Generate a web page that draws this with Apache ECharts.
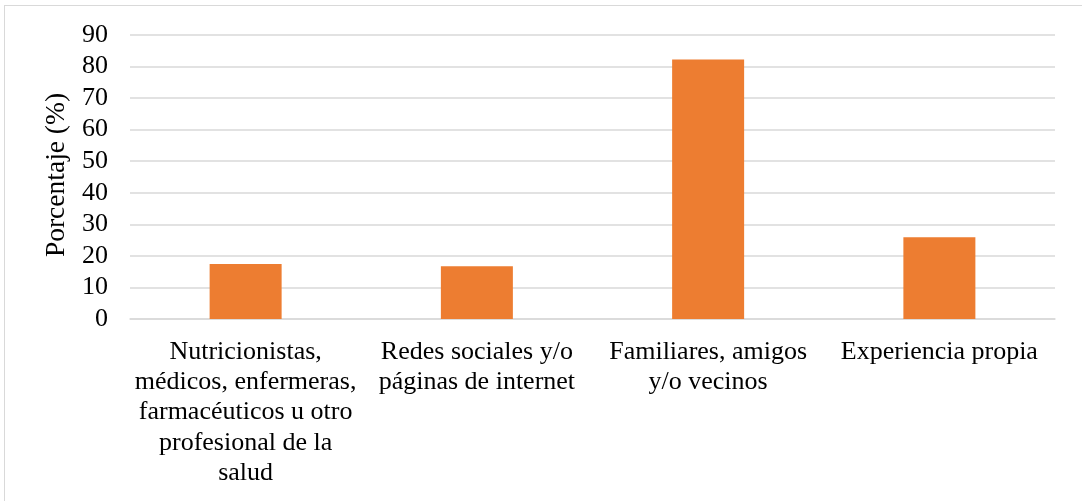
<!DOCTYPE html>
<html>
<head>
<meta charset="utf-8">
<script src="https://cdn.jsdelivr.net/npm/echarts@6/dist/echarts.min.js"></script>
<style>
  html, body { margin: 0; padding: 0; background: #fff; }
  #frame { position: absolute; left: 4px; top: 5px; width: 1090px; height: 510px; border: 1px solid #d9d9d9; box-sizing: border-box; }
  #chart { position: absolute; left: 0; top: 0; width: 1082px; height: 501px; }
</style>
</head>
<body>
<div id="frame"></div>
<div id="chart"></div>
<script>
// Sources of information, percentage of respondents
const categories = [
  'Nutricionistas,\nmédicos, enfermeras,\nfarmacéuticos u otro\nprofesional de la\nsalud',
  'Redes sociales y/o\npáginas de internet',
  'Familiares, amigos\ny/o vecinos',
  'Experiencia propia'
];
const percentages = [17.4, 16.7, 82.2, 25.9];
const yAxisTitle = 'Porcentaje (%)';

const serif = '"Liberation Serif", "Times New Roman", serif';
const chart = echarts.init(document.getElementById('chart'), null, { renderer: 'canvas' });
chart.setOption({
  animation: false,
  grid: { left: 130, right: 27, top: 35, bottom: 182, containLabel: false },
  xAxis: {
    type: 'category',
    data: categories,
    axisLine: { show: true, lineStyle: { color: '#d9d9d9', width: 1.5 } },
    axisTick: { show: false },
    axisLabel: {
      interval: 0,
      margin: 18,
      color: '#000',
      fontFamily: serif,
      fontSize: 26,
      lineHeight: 30.2
    }
  },
  yAxis: {
    type: 'value',
    min: 0,
    max: 90,
    interval: 10,
    name: yAxisTitle,
    nameLocation: 'middle',
    nameGap: 52,
    nameTextStyle: { color: '#000', fontFamily: serif, fontSize: 27.5, padding: [0, 0, 0, 4] },
    axisLine: { show: false },
    axisTick: { show: false },
    splitLine: { lineStyle: { color: '#d9d9d9', width: 1.5 } },
    axisLabel: { color: '#000', fontFamily: serif, fontSize: 26, margin: 22 }
  },
  series: [{
    type: 'bar',
    data: percentages,
    barWidth: 72,
    itemStyle: { color: '#ed7d31' }
  }]
});
</script>
</body>
</html>
